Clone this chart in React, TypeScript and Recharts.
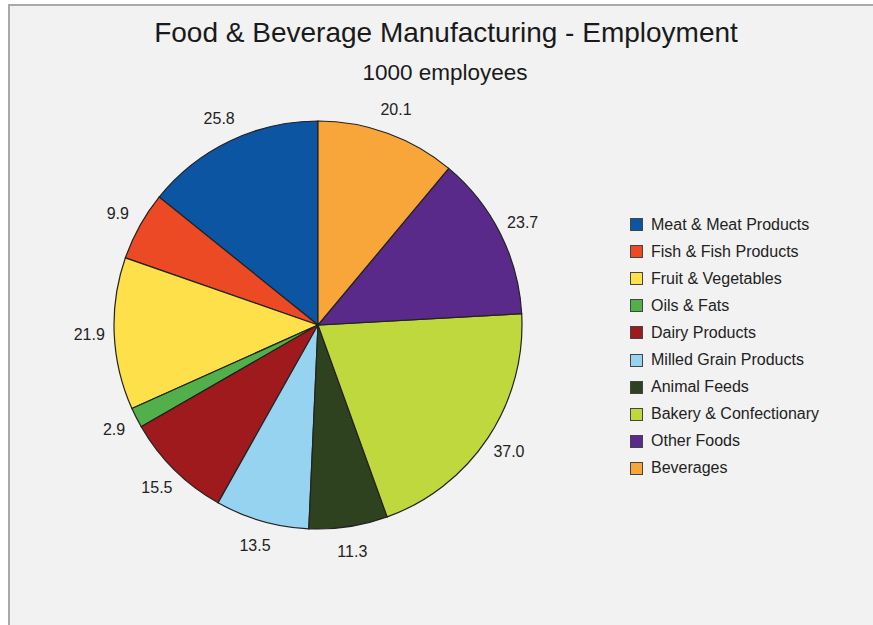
import { PieChart, Pie, Cell, Legend } from 'recharts';

const categories = [
  'Meat & Meat Products',
  'Fish & Fish Products',
  'Fruit & Vegetables',
  'Oils & Fats',
  'Dairy Products',
  'Milled Grain Products',
  'Animal Feeds',
  'Bakery & Confectionary',
  'Other Foods',
  'Beverages',
];

const employment = [25.8, 9.9, 21.9, 2.9, 15.5, 13.5, 11.3, 37.0, 23.7, 20.1];

const colors = [
  '#0b55a3',
  '#ec4a24',
  '#fde04a',
  '#52b04a',
  '#9e1a1c',
  '#96d3f0',
  '#2f4220',
  '#bfd83e',
  '#5a2a8a',
  '#f8a63a',
];

const data = categories.map((name, i) => ({ name, value: employment[i] }));

const RAD = Math.PI / 180;
const FONT = "'Liberation Sans', Arial, Helvetica, sans-serif";

function renderLabel(props: any) {
  const { cx, cy, midAngle, outerRadius, value } = props;
  const r = outerRadius + 25;
  const x = cx + r * Math.cos(-midAngle * RAD);
  const y = cy + r * Math.sin(-midAngle * RAD);
  return (
    <text
      x={x}
      y={y}
      textAnchor="middle"
      dominantBaseline="central"
      fontSize={16}
      fontFamily={FONT}
      fill="#222"
    >
      {Number(value).toFixed(1)}
    </text>
  );
}

function LegendList() {
  return (
    <div style={{ fontFamily: FONT, fontSize: 16, color: '#222' }}>
      {categories.map((name, i) => (
        <div
          key={name}
          style={{ display: 'flex', alignItems: 'center', height: 27.1 }}
        >
          <span
            style={{
              display: 'inline-block',
              width: 13,
              height: 13,
              background: colors[i],
              border: '1px solid #444',
              boxSizing: 'border-box',
              marginRight: 8,
            }}
          />
          <span>{name}</span>
        </div>
      ))}
    </div>
  );
}

export default function App() {
  return (
    <div
      style={{
        position: 'fixed',
        left: 0,
        top: 0,
        width: 873,
        height: 625,
        background: '#ffffff',
        overflow: 'hidden',
      }}
    >
      <div
        style={{
          position: 'absolute',
          left: 8,
          top: 4,
          width: 865,
          height: 621,
          borderLeft: '2px solid #a9a9a9',
          borderTop: '2px solid #a9a9a9',
          background: '#f2f2f2',
        }}
      />
      <div
        style={{
          position: 'absolute',
          left: 0,
          width: 892,
          top: 17,
          textAlign: 'center',
          fontFamily: FONT,
          fontSize: 28,
          color: '#1a1a1a',
        }}
      >
        Food &amp; Beverage Manufacturing - Employment
      </div>
      <div
        style={{
          position: 'absolute',
          left: 0,
          width: 890,
          top: 60,
          textAlign: 'center',
          fontFamily: FONT,
          fontSize: 22.5,
          color: '#1a1a1a',
        }}
      >
        1000 employees
      </div>
      <div style={{ position: 'absolute', left: 0, top: 0 }}>
        <PieChart width={873} height={625}>
          <Pie
            data={data}
            dataKey="value"
            nameKey="name"
            cx={313}
            cy={320}
            outerRadius={204}
            startAngle={90}
            endAngle={450}
            stroke="#222"
            strokeWidth={1.2}
            label={renderLabel}
            labelLine={false}
            isAnimationActive={false}
          >
            {data.map((d, i) => (
              <Cell key={d.name} fill={colors[i]} />
            ))}
          </Pie>
          <Legend
            content={() => <LegendList />}
            wrapperStyle={{ position: 'absolute', left: 630, top: 211, width: 230 }}
          />
        </PieChart>
      </div>
    </div>
  );
}
